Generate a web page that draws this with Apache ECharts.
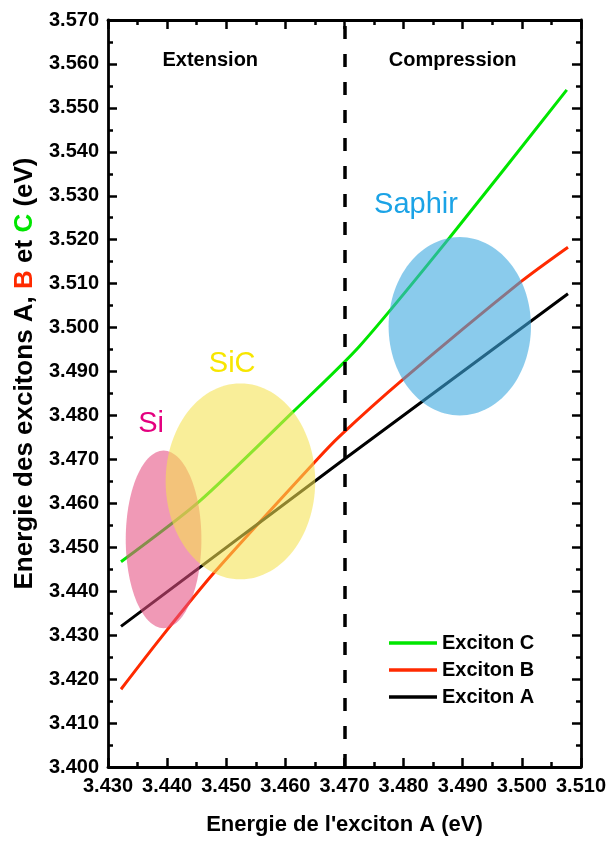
<!DOCTYPE html>
<html>
<head>
<meta charset="utf-8">
<script src="https://cdn.jsdelivr.net/npm/echarts@6/dist/echarts.min.js"></script>
<style>html,body{margin:0;padding:0;background:#fff}#c{width:609px;height:841px}</style>
</head>
<body>
<div id="c"></div>
<script>
// ---- data ----
const xRange = [3.430, 3.510];
const yRange = [3.400, 3.570];
const excitonC = [[3.4322,3.4467],[3.4455,3.4605],[3.4612,3.4807],[3.4725,3.4957],[3.4878,3.5205],[3.5076,3.5541]];
const excitonB = [[3.4322,3.4177],[3.4390,3.4295],[3.4480,3.4443],[3.4649,3.4693],[3.4692,3.4753],[3.4799,3.4882],[3.4999,3.5105],[3.5078,3.5183]];
const excitonA = [[3.4322,3.4320],[3.4692,3.4693],[3.5078,3.5077]];
const seriesNames = ['Exciton C','Exciton B','Exciton A'];
// substrate regions: [centerX, centerY, radiusX, radiusY]
const regionNames = ['Si','SiC','Saphir'];
const regionShapes = [[3.4394,3.4518,0.0064,0.0202],[3.4524,3.4650,0.01265,0.0223],[3.4895,3.5003,0.01204,0.0203]];
const regionLabelPos = [[3.4373,3.4780],[3.4510,3.4918],[3.4821,3.5278]];
const zoneNames = ['Extension','Compression'];
const zoneLabelPos = [[3.4473,3.5609],[3.4883,3.5609]];
const boundaryX = 3.470;

// ---- styles ----
const FONT = '"Liberation Sans", Arial, Helvetica, sans-serif';
const lineColors = ['#00E600','#FF2A00','#000000'];
const fillColors = ['rgba(230,80,130,0.58)','rgba(245,225,80,0.58)','rgba(60,168,224,0.6)'];
const labelColors = ['#E4007F','#F7E600','#1BA3E6'];

const chart = echarts.init(document.getElementById('c'), null, {renderer:'canvas'});

function ellipseItem(params, api) {
  const i = params.dataIndex;
  const s = regionShapes[i];
  const pts = [];
  for (let k = 0; k < 120; k++) {
    const t = k / 120 * Math.PI * 2;
    pts.push(api.coord([s[0] + s[2]*Math.cos(t), s[1] + s[3]*Math.sin(t)]));
  }
  return {type:'polygon', shape:{points:pts}, style:{fill:fillColors[i]}};
}

function axisCommon() {
  return {
    type:'value',
    interval:0.01,
    splitLine:{show:false},
    axisLine:{show:true, onZero:false, lineStyle:{color:'#000', width:2.8}},
    axisTick:{show:true, inside:true, length:9, lineStyle:{color:'#000', width:2.5}},
    minorTick:{show:true, splitNumber:2, length:5, lineStyle:{color:'#000', width:2.5}},
    minorSplitLine:{show:false}
  };
}

const option = {
  animation:false,
  backgroundColor:'#fff',
  grid:{left:108, right:27, top:20, bottom:73, containLabel:false},
  xAxis:[
    Object.assign(axisCommon(), {
      min:xRange[0], max:xRange[1], position:'bottom',
      axisLabel:{margin:9, fontSize:20, fontWeight:'bold', color:'#000', fontFamily:FONT,
        formatter:v=>v.toFixed(3)},
      name:"Energie de l'exciton A (eV)", nameLocation:'middle', nameGap:47,
      nameTextStyle:{fontSize:22, fontWeight:'bold', color:'#000', fontFamily:FONT}
    }),
    Object.assign(axisCommon(), {
      min:xRange[0], max:xRange[1], position:'top', axisLabel:{show:false}
    })
  ],
  yAxis:[
    Object.assign(axisCommon(), {
      min:yRange[0], max:yRange[1], position:'left',
      axisLabel:{margin:9, fontSize:20, fontWeight:'bold', color:'#000', fontFamily:FONT,
        formatter:v=>v.toFixed(3)},
      name:'{a|Energie des excitons A, }{b|B}{a| et }{c|C}{a| (eV)}',
      nameLocation:'middle', nameGap:66,
      nameTextStyle:{fontSize:26, fontWeight:'bold', color:'#000', fontFamily:FONT,
        padding:[0,0,0,40],
        rich:{
          a:{fontSize:26, fontWeight:'bold', color:'#000', fontFamily:FONT},
          b:{fontSize:26, fontWeight:'bold', color:lineColors[1], fontFamily:FONT},
          c:{fontSize:26, fontWeight:'bold', color:lineColors[0], fontFamily:FONT}
        }}
    }),
    Object.assign(axisCommon(), {
      min:yRange[0], max:yRange[1], position:'right', axisLabel:{show:false}
    })
  ],
  legend:{
    data:seriesNames, orient:'vertical', left:384, top:628,
    icon:'rect', itemWidth:48, itemHeight:3.5, itemGap:7,
    textStyle:{fontSize:20, fontWeight:'bold', color:'#000', fontFamily:FONT, padding:[0,0,0,0]}
  },
  series:[
    {name:seriesNames[0], type:'line', data:excitonC, smooth:0.25, showSymbol:false,
      lineStyle:{color:lineColors[0], width:3}, itemStyle:{color:lineColors[0]}, z:2},
    {name:seriesNames[1], type:'line', data:excitonB, smooth:0.25, showSymbol:false,
      lineStyle:{color:lineColors[1], width:3}, itemStyle:{color:lineColors[1]}, z:2},
    {name:seriesNames[2], type:'line', data:excitonA, smooth:false, showSymbol:false,
      lineStyle:{color:lineColors[2], width:3}, itemStyle:{color:lineColors[2]}, z:2,
      markLine:{silent:true, symbol:'none', label:{show:false},
        lineStyle:{color:'#000', width:3.5, type:[13,15]},
        data:[{xAxis:boundaryX}]}},
    {type:'custom', name:'regions', data:regionShapes.map((s,i)=>[s[0],s[1]]),
      renderItem:ellipseItem, z:5, silent:true},
    {type:'custom', name:'regionLabels', data:regionLabelPos, z:6, silent:true,
      renderItem:(params, api)=>{
        const i = params.dataIndex;
        const p = api.coord(regionLabelPos[i]);
        return {type:'text', x:p[0], y:p[1], style:{text:regionNames[i], fill:labelColors[i],
          font:'29px '+FONT, align:'center', verticalAlign:'middle'}};
      }},
    {type:'custom', name:'zoneLabels', data:zoneLabelPos, z:6, silent:true,
      renderItem:(params, api)=>{
        const i = params.dataIndex;
        const p = api.coord(zoneLabelPos[i]);
        return {type:'text', x:p[0], y:p[1], style:{text:zoneNames[i], fill:'#000',
          font:'bold 20px '+FONT, align:'center', verticalAlign:'middle'}};
      }}
  ]
};
chart.setOption(option);
</script>
</body>
</html>
